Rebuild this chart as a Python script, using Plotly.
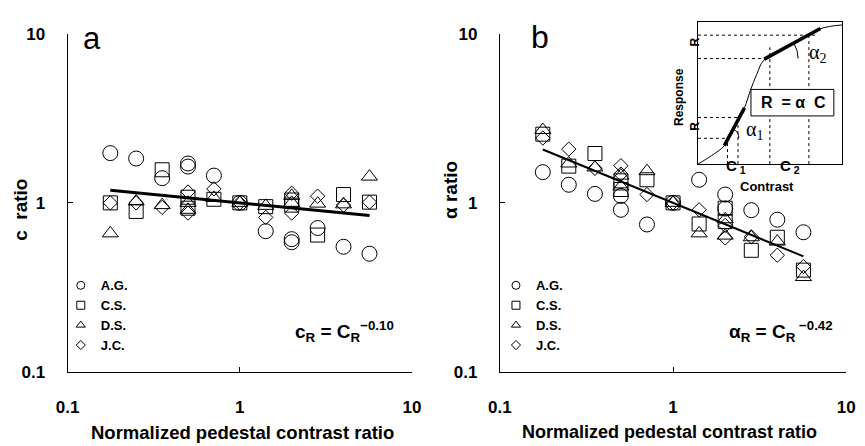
import plotly.graph_objects as go

# Normalized pedestal contrast ratios (shared by every observer)
x_ratio = [0.177, 0.25, 0.354, 0.5, 0.5, 0.707, 1.0, 1.414, 2.0, 2.0, 2.83, 4.0, 5.66]

# Panel a: c ratio per observer
c_ag = [1.97, 1.83, 1.40, 1.71, 1.64, 1.45, 1.0, 0.68, 0.61, 0.585, 0.71, 0.55, 0.50]
c_cs = [1.0, 0.89, 1.57, 1.08, 0.93, 1.05, 1.0, 0.95, 1.04, 0.97, 0.645, 1.12, 1.01]
c_ds = [0.66, 1.02, 0.97, 1.0, 0.91, 1.07, 1.0, 0.96, 1.10, 1.0, 0.99, 0.98, 1.43]
c_jc = [1.0, 1.0, 0.94, 1.16, 0.87, 1.21, 1.0, 0.82, 1.14, 0.87, 1.095, 0.97, 1.01]

# Panel b: alpha ratio per observer
a_ag = [1.52, 1.28, 1.13, 1.10, 0.91, 0.745, 1.0, 1.37, 1.12, 0.925, 0.905, 0.795, 0.67]
a_cs = [2.55, 1.65, 1.96, 1.35, 1.2, 1.37, 1.0, 0.75, 0.93, 0.775, 0.524, 0.626, 0.40]
a_ds = [2.7, 1.71, 1.62, 1.45, 1.25, 1.54, 1.0, 0.66, 0.80, 0.64, 0.626, 0.59, 0.364]
a_jc = [2.42, 2.08, 1.60, 1.66, 1.48, 1.12, 1.0, 0.91, 0.735, 0.62, 0.63, 0.49, 0.42]

# Power-law fit exponents
c_exp = -0.10
a_exp = -0.42

observers = ["A.G.", "C.S.", "D.S.", "J.C."]
symbols = ["circle-open", "square-open", "triangle-up-open", "diamond-open"]
sizes = [15, 14, 14, 11]

tick_vals = [0.1, 1, 10]
tick_text = ["0.1", "1", "10"]

# Schematic response curve for the inset (normalized contrast, response)
inset_c = [0.0, 0.093, 0.183, 0.253, 0.323, 0.364, 0.408, 0.458, 0.657, 0.848, 1.0]
inset_r = [0.0, 0.059, 0.130, 0.261, 0.397, 0.520, 0.633, 0.734, 0.847, 0.955, 0.982]
tangent1_c = [0.183, 0.323]
tangent1_r = [0.130, 0.397]
tangent2_c = [0.460, 0.850]
tangent2_r = [0.741, 0.957]

W, H = 865, 446
FONT = "Liberation Sans"


def px(x):
    return x / W


def py(y):
    return 1 - y / H


fig = go.Figure()

panels = [
    ("x", "y", "legend", [c_ag, c_cs, c_ds, c_jc], c_exp, 3),
    ("x2", "y2", "legend2", [a_ag, a_cs, a_ds, a_jc], a_exp, 2),
]

for xa, ya, leg, series, expo, lw in panels:
    for name, sym, sz, yv in zip(observers, symbols, sizes, series):
        fig.add_trace(go.Scatter(
            x=x_ratio, y=yv, mode="markers", xaxis=xa, yaxis=ya,
            marker=dict(symbol=sym, size=sz, color="black",
                        line=dict(width=1, color="black")),
            showlegend=False, name=name, hoverinfo="x+y"))
        # small legend key
        fig.add_trace(go.Scatter(
            x=[None], y=[None], mode="markers", xaxis=xa, yaxis=ya,
            marker=dict(symbol=sym, size=8 if sym != "diamond-open" else 7,
                        color="black", line=dict(width=1, color="black")),
            name=name, legend=leg, showlegend=True))
    x_fit = [x_ratio[0], x_ratio[-1]]
    y_fit = [v ** expo for v in x_fit]
    fig.add_trace(go.Scatter(
        x=x_fit, y=y_fit, mode="lines", xaxis=xa, yaxis=ya,
        line=dict(color="black", width=lw), showlegend=False))

# Inset: schematic contrast-response function
fig.add_trace(go.Scatter(x=inset_c, y=inset_r, mode="lines", xaxis="x3", yaxis="y3",
                         line=dict(color="black", width=1, shape="spline"),
                         showlegend=False, hoverinfo="skip"))
for tc, tr in [(tangent1_c, tangent1_r), (tangent2_c, tangent2_r)]:
    fig.add_trace(go.Scatter(x=tc, y=tr, mode="lines", xaxis="x3", yaxis="y3",
                             line=dict(color="black", width=3.5),
                             showlegend=False, hoverinfo="skip"))

axis_common = dict(
    type="log", range=[-1, 1], showline=True, linecolor="black", linewidth=1,
    ticks="inside", ticklen=5, tickcolor="black", tickvals=tick_vals,
    ticktext=tick_text, showgrid=False, zeroline=False,
    tickfont=dict(family=FONT, size=17, color="black", weight="bold"),
)

legend_common = dict(xanchor="left", yanchor="top", bgcolor="rgba(0,0,0,0)",
                     itemwidth=30, tracegroupgap=0,
                     font=dict(family=FONT, size=13, color="black", weight="bold"))

ydom = [py(379), py(26)]
fig.update_layout(
    width=W, height=H, margin=dict(l=0, r=0, t=0, b=0),
    paper_bgcolor="white", plot_bgcolor="white",
    xaxis=dict(axis_common, domain=[px(57), px(410)], anchor="y", ticklabelstandoff=20),
    yaxis=dict(axis_common, domain=ydom, anchor="x", ticklabelstandoff=18),
    xaxis2=dict(axis_common, domain=[px(500), px(855)], anchor="y2", ticklabelstandoff=20),
    yaxis2=dict(axis_common, domain=ydom, anchor="x2", ticklabelstandoff=18),
    xaxis3=dict(domain=[px(703), px(850.7)], anchor="y3", range=[0, 1],
                showline=True, mirror=True, linecolor="black", linewidth=1,
                showgrid=False, zeroline=False, showticklabels=False, ticks=""),
    yaxis3=dict(domain=[py(162), py(14)], anchor="x3", range=[0, 1],
                showline=True, mirror=True, linecolor="black", linewidth=1,
                showgrid=False, zeroline=False, showticklabels=False, ticks=""),
    legend=dict(legend_common, x=px(50), y=py(273)),
    legend2=dict(legend_common, x=px(496), y=py(273)),
    showlegend=True,
)

# Dotted guide lines in the inset
dotted = [
    (0, 0.910, 0.813, 0.910), (0, 0.745, 0.499, 0.745),
    (0, 0.329, 0.296, 0.329), (0, 0.182, 0.205, 0.182),
    (0.205, 0, 0.205, 0.182), (0.278, 0, 0.278, 0.331),
    (0.499, 0, 0.499, 0.824), (0.77, 0, 0.77, 0.905),
]
for x0, y0, x1, y1 in dotted:
    fig.add_shape(type="line", xref="x3", yref="y3", x0=x0, y0=y0, x1=x1, y1=y1,
                  line=dict(color="black", width=1, dash="dot"))
# angle arcs
fig.add_shape(type="path", xref="x3", yref="y3",
              path="M 0.284 0.182 Q 0.284 0.225 0.247 0.247",
              line=dict(color="black", width=1))
fig.add_shape(type="path", xref="x3", yref="y3",
              path="M 0.695 0.745 Q 0.695 0.801 0.668 0.85",
              line=dict(color="black", width=1))
# equation box
fig.add_shape(type="rect", xref="x3", yref="y3", x0=0.368, x1=0.943, y0=0.34, y1=0.527,
              line=dict(color="black", width=1), fillcolor="white", layer="above")


def ann(text, x, y, size, xanchor="center", yanchor="middle", angle=0, bold=True, family=FONT):
    fig.add_annotation(text=text, x=px(x), y=py(y), xref="paper", yref="paper",
                       xanchor=xanchor, yanchor=yanchor, showarrow=False, textangle=angle,
                       borderpad=0,
                       font=dict(family=family, size=size, color="black",
                                 weight="bold" if bold else "normal"))


# panel letters
ann("a", 72, 31, 31, xanchor="left", bold=False)
ann("b", 531, 29, 32, xanchor="left", bold=False)

# axis titles
ann("Normalized pedestal contrast ratio", 236, 442, 18.5)
ann("Normalized pedestal contrast ratio", 674, 442, 18)
ann("c  ratio", 8, 210, 19, angle=-90)
ann("α ratio", 450, 189, 19, angle=-90)

# fit equations
ann("c<sub>R</sub> = C<sub>R</sub><sup>−0.10</sup>", 393, 352, 19, xanchor="right", yanchor="bottom")
ann("α<sub>R</sub> = C<sub>R</sub><sup> −0.42</sup>", 842, 352, 19, xanchor="right", yanchor="bottom")

# inset labels
ann("Response", 683.5, 92, 12, angle=-90)
ann("R", 700, 35, 12, angle=-90)
ann("R", 700, 123, 12, angle=-90)
ann("C<sub> 1</sub>", 731, 165, 15, xanchor="left")
ann("C<sub> 2</sub>", 786, 165, 15, xanchor="left")
ann("Contrast", 774, 185, 13)
ann("α<sub>1</sub>", 751, 127, 20, xanchor="left", bold=False, family="Liberation Serif")
ann("α<sub>2</sub>", 816, 46, 20, xanchor="left", bold=False, family="Liberation Serif")
ann("R\u00a0 = α\u00a0 C", 801, 98, 16)

fig.write_html("out.html")
